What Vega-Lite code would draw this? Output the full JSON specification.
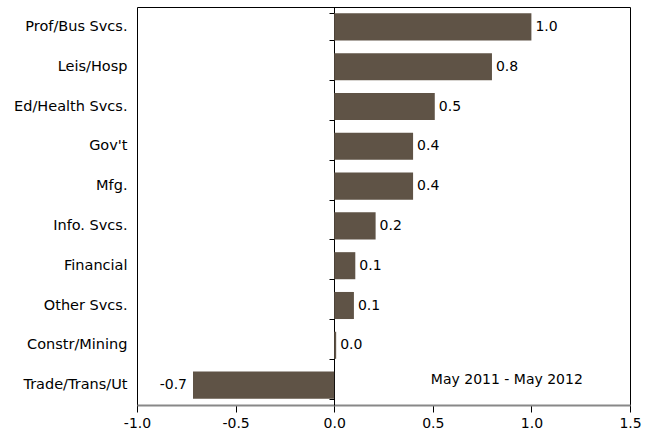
{
  "$schema": "https://vega.github.io/schema/vega-lite/v6.json",
  "width": 493,
  "height": 398,
  "autosize": "none",
  "padding": {"left": 137, "top": 7, "right": 24, "bottom": 31},
  "background": "white",
  "view": {"stroke": "#000000", "strokeWidth": 1},
  "config": {
    "font": "DejaVu Sans",
    "locale": {"number": {"decimal": ".", "thousands": ",", "grouping": [3], "currency": ["$", ""], "minus": "-"}},
    "axis": {"labelFont": "DejaVu Sans", "labelFontSize": 14, "labelColor": "#000000", "domainColor": "#000000", "tickColor": "#000000"}
  },
  "data": {
    "values": [
      {"sector": "Prof/Bus Svcs.", "change": 1.0},
      {"sector": "Leis/Hosp", "change": 0.8},
      {"sector": "Ed/Health Svcs.", "change": 0.51},
      {"sector": "Gov't", "change": 0.4},
      {"sector": "Mfg.", "change": 0.4},
      {"sector": "Info. Svcs.", "change": 0.21},
      {"sector": "Financial", "change": 0.107},
      {"sector": "Other Svcs.", "change": 0.1},
      {"sector": "Constr/Mining", "change": 0.01},
      {"sector": "Trade/Trans/Ut", "change": -0.716}
    ]
  },
  "resolve": {"axis": {"y": "independent"}},
  "layer": [
    {
      "mark": {"type": "bar", "color": "#5f5346"},
      "encoding": {
        "y": {
          "field": "sector", "type": "nominal",
          "sort": ["Prof/Bus Svcs.", "Leis/Hosp", "Ed/Health Svcs.", "Gov't", "Mfg.", "Info. Svcs.", "Financial", "Other Svcs.", "Constr/Mining", "Trade/Trans/Ut"],
          "scale": {"paddingInner": 0.32, "paddingOuter": 0.16},
          "axis": {"title": null, "domain": false, "ticks": false, "labelPadding": 10, "labelFontSize": 14.5, "orient": "left"}
        },
        "x": {
          "field": "change", "type": "quantitative",
          "scale": {"domain": [-1, 1.5], "nice": false, "zero": false},
          "axis": {"title": null, "values": [-1, -0.5, 0, 0.5, 1, 1.5], "format": ".1f", "grid": false, "tickSize": 7, "labelPadding": 4, "domainColor": "#888888", "domainWidth": 2, "labelFlush": false}
        }
      }
    },
    {
      "mark": {"type": "tick", "opacity": 0},
      "encoding": {
        "y": {
          "field": "sector", "type": "nominal",
          "sort": ["Prof/Bus Svcs.", "Leis/Hosp", "Ed/Health Svcs.", "Gov't", "Mfg.", "Info. Svcs.", "Financial", "Other Svcs.", "Constr/Mining", "Trade/Trans/Ut"],
          "axis": {"title": null, "orient": "left", "offset": -197, "labels": false, "tickBand": "extent", "tickSize": 5, "domain": true, "domainColor": "#000000"}
        },
        "x": {"datum": 0}
      }
    },
    {
      "mark": {"type": "text", "align": "left", "dx": 4, "fontSize": 14, "color": "#000000"},
      "transform": [{"filter": "datum.change >= 0"}],
      "encoding": {
        "y": {"field": "sector", "type": "nominal",
          "sort": ["Prof/Bus Svcs.", "Leis/Hosp", "Ed/Health Svcs.", "Gov't", "Mfg.", "Info. Svcs.", "Financial", "Other Svcs.", "Constr/Mining", "Trade/Trans/Ut"],
          "axis": null},
        "x": {"field": "change", "type": "quantitative"},
        "text": {"field": "change", "type": "quantitative", "format": ".1f"}
      }
    },
    {
      "mark": {"type": "text", "align": "right", "dx": -6, "fontSize": 14, "color": "#000000"},
      "transform": [{"filter": "datum.change < 0"}],
      "encoding": {
        "y": {"field": "sector", "type": "nominal",
          "sort": ["Prof/Bus Svcs.", "Leis/Hosp", "Ed/Health Svcs.", "Gov't", "Mfg.", "Info. Svcs.", "Financial", "Other Svcs.", "Constr/Mining", "Trade/Trans/Ut"],
          "axis": null},
        "x": {"field": "change", "type": "quantitative"},
        "text": {"field": "change", "type": "quantitative", "format": ".1f"}
      }
    },
    {
      "data": {"values": [{"period": "May 2011 - May 2012", "sector": "Trade/Trans/Ut", "at": 0.49}]},
      "mark": {"type": "text", "align": "left", "dy": -5, "fontSize": 14, "color": "#000000"},
      "encoding": {
        "y": {"field": "sector", "type": "nominal",
          "sort": ["Prof/Bus Svcs.", "Leis/Hosp", "Ed/Health Svcs.", "Gov't", "Mfg.", "Info. Svcs.", "Financial", "Other Svcs.", "Constr/Mining", "Trade/Trans/Ut"],
          "axis": null},
        "x": {"field": "at", "type": "quantitative"},
        "text": {"field": "period"}
      }
    }
  ]
}
